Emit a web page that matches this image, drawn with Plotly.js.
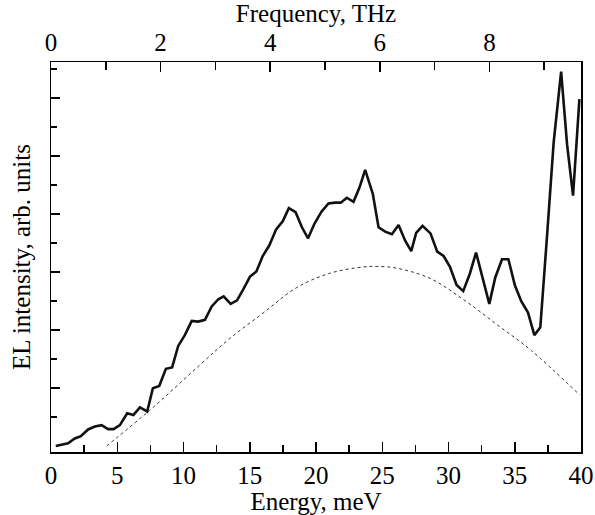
<!DOCTYPE html>
<html>
<head>
<meta charset="utf-8">
<script src="https://cdn.plot.ly/plotly-3.0.1.min.js"></script>
<style>
html,body{margin:0;padding:0;background:#fff;}
#chart{width:595px;height:515px;}
</style>
</head>
<body>
<div id="chart"></div>
<script>
// Measured EL spectrum (energy in meV, intensity in arbitrary units)
const energy = [0.36,0.79,1.29,1.80,2.25,2.80,3.31,3.82,4.31,4.72,5.20,5.75,6.22,6.71,7.26,7.69,8.17,8.67,9.14,9.60,
  10.11,10.62,11.11,11.62,12.13,12.63,13.03,13.56,14.04,14.51,15.02,15.50,15.98,16.48,16.99,17.49,17.95,18.46,18.93,19.40,
  19.89,20.40,20.94,21.44,21.87,22.33,22.83,23.28,23.71,24.29,24.72,25.22,25.73,26.23,26.73,27.19,27.56,28.04,28.64,29.15,
  29.63,30.11,30.61,31.11,31.61,32.08,32.59,33.08,33.53,34.04,34.52,35.01,35.49,36.00,36.48,36.93,37.46,37.94,38.50,38.95,
  39.40,39.88];
const intensity = [0.00,0.03,0.09,0.26,0.34,0.57,0.67,0.72,0.58,0.58,0.72,1.13,1.07,1.33,1.19,1.99,2.07,2.66,2.71,3.45,
  3.83,4.31,4.29,4.35,4.81,5.06,5.16,4.90,5.02,5.40,5.84,6.02,6.55,6.92,7.47,7.75,8.20,8.06,7.55,7.16,
  7.67,8.07,8.36,8.39,8.39,8.56,8.42,8.91,9.52,8.69,7.54,7.39,7.30,7.62,7.08,6.72,7.35,7.59,7.33,6.70,
  6.55,6.18,5.55,5.34,5.94,6.67,5.76,4.90,5.81,6.44,6.44,5.54,4.99,4.60,3.82,4.09,7.39,10.49,12.91,10.39,
  8.63,11.96];
// Dashed reference curve
const refEnergy = [4.2,7.5,11.2,13.5,16.0,18.5,21.0,23.5,24.6,26.1,28.6,31.1,33.7,36.2,39.9];
const refIntensity = [0.0,1.25,2.78,3.71,4.58,5.45,5.95,6.17,6.19,6.13,5.78,5.06,4.17,3.31,1.76];

const meVperTHz = 4.1357;
const energyRange = [0, 40];
const freqTicks = [0,2,4,6,8];

const fontFam = 'Liberation Serif, Times New Roman, serif';

const traces = [
  {x: refEnergy, y: refIntensity, type:'scatter', mode:'lines',
   line:{color:'#333', width:1, dash:'3px,3px', shape:'spline', smoothing:1},
   hoverinfo:'skip', showlegend:false},
  {x: energy, y: intensity, type:'scatter', mode:'lines',
   line:{color:'#111', width:2.6}, showlegend:false},
  {x: [0], y: [null], xaxis:'x2', yaxis:'y', type:'scatter', mode:'markers',
   hoverinfo:'skip', showlegend:false}
];

const layout = {
  width:595, height:515,
  margin:{l:51, r:14, t:62, b:63},
  paper_bgcolor:'#fff', plot_bgcolor:'#fff',
  font:{family:fontFam, size:24, color:'#000'},
  showlegend:false,
  xaxis:{
    range:energyRange, dtick:5, tick0:0,
    ticks:'inside', ticklen:10, tickwidth:1.5, tickcolor:'#000',
    minor:{dtick:2.5, ticks:'inside', ticklen:7, tickwidth:1.5, tickcolor:'#000'},
    showline:true, linecolor:'#000', linewidth:1.5,
    showgrid:false, zeroline:false,
    tickfont:{family:fontFam, size:25, color:'#000'},
    title:{text:'Energy, meV', font:{family:fontFam, size:25, color:'#000'}, standoff:0}
  },
  xaxis2:{
    overlaying:'x', side:'top', anchor:'y',
    range:[energyRange[0]/meVperTHz, energyRange[1]/meVperTHz],
    tickmode:'array', tickvals:freqTicks, ticktext:freqTicks.map(String),
    ticks:'inside', ticklen:10, tickwidth:1.5, tickcolor:'#000',
    minor:{dtick:1, tick0:0, ticks:'inside', ticklen:8, tickwidth:1.5, tickcolor:'#000'},
    showline:true, linecolor:'#000', linewidth:1.5,
    showgrid:false, zeroline:false,
    tickfont:{family:fontFam, size:25, color:'#000'},
    title:{text:'Frequency, THz', font:{family:fontFam, size:25, color:'#000'}, standoff:0}
  },
  yaxis:{
    range:[-0.207, 13.24],
    tickmode:'array', tickvals:[2,4,6,8,10,12], showticklabels:false,
    ticks:'inside', ticklen:9, tickwidth:1.5, tickcolor:'#000',
    minor:{tickmode:'array', tickvals:[1,3,5,7,9,11,13], ticks:'inside', ticklen:6, tickwidth:1.5, tickcolor:'#000'},
    showline:true, mirror:true, linecolor:'#000', linewidth:1.5,
    showgrid:false, zeroline:false,
    title:{text:'EL intensity, arb. units', font:{family:fontFam, size:25, color:'#000'}, standoff:12}
  }
};

Plotly.newPlot('chart', traces, layout, {displayModeBar:false, staticPlot:true});
</script>
</body>
</html>
